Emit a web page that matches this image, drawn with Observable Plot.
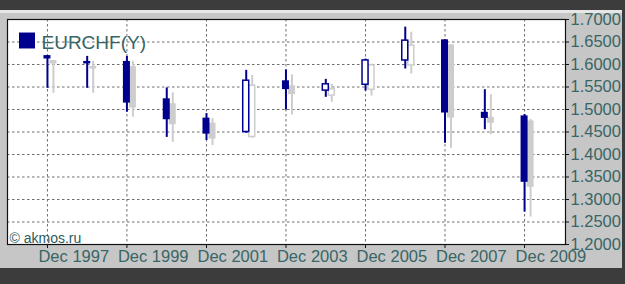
<!DOCTYPE html>
<html>
<head>
<meta charset="utf-8">
<script src="https://cdn.jsdelivr.net/npm/d3@7"></script>
<script src="https://cdn.jsdelivr.net/npm/@observablehq/plot@0.6"></script>
<style>
  html, body { margin: 0; padding: 0; background: #c6c6c6; }
  #wrap { position: relative; width: 625px; height: 284px; overflow: hidden; background: #c6c6c6; }
  .band { position: absolute; }
  #chart { position: absolute; left: 0; top: 0; }
</style>
</head>
<body>
<div id="wrap">
  <div class="band" style="left:0;top:0;width:625px;height:10px;background:#3c3c3c"></div>
  <div class="band" style="left:0;top:10px;width:625px;height:3px;background:#e6e6e6"></div>
  <div class="band" style="left:0;top:268px;width:625px;height:16px;background:#3c3c3c"></div>
  <div class="band" style="left:622px;top:0;width:3px;height:284px;background:#3c3c3c"></div>
  <div id="chart"></div>
</div>
<script>
// Yearly candles, EURCHF
const years = [1997, 1998, 1999, 2000, 2001, 2002, 2003, 2004, 2005, 2006, 2007, 2008, 2009];
const open  = [1.618, 1.605, 1.605, 1.522, 1.479, 1.450, 1.562, 1.542, 1.555, 1.609, 1.653, 1.492, 1.484];
const high  = [1.619, 1.618, 1.618, 1.548, 1.491, 1.587, 1.588, 1.567, 1.612, 1.683, 1.655, 1.544, 1.489];
const low   = [1.547, 1.547, 1.494, 1.438, 1.431, 1.447, 1.499, 1.527, 1.541, 1.590, 1.425, 1.455, 1.272];
const close = [1.614, 1.603, 1.516, 1.479, 1.447, 1.564, 1.546, 1.556, 1.609, 1.653, 1.494, 1.482, 1.340];

const xTickYears = [1997, 1999, 2001, 2003, 2005, 2007, 2009];
const yTicks = [1.20, 1.25, 1.30, 1.35, 1.40, 1.45, 1.50, 1.55, 1.60, 1.65, 1.70];
const yGrid = [1.25, 1.30, 1.35, 1.40, 1.45, 1.50, 1.55, 1.60, 1.65];
const seriesLabel = "EURCHF(Y)";
const credit = "© akmos.ru";

const dec = y => new Date(Date.UTC(y, 11, 1));
const data = years.map((y, i) => ({
  date: dec(y), open: open[i], high: high[i], low: low[i], close: close[i],
  up: close[i] > open[i]
}));
const xTicks = xTickYears.map(dec);

const blue = "#00008e";
const shadow = "#cdcdcd";
const teal = "#386565";
const font = "'Liberation Sans', Arial, sans-serif";

const downs = data.filter(d => !d.up);
const ups = data.filter(d => d.up);

function candleMarks(col, dx, dy, hollowFill) {
  return [
    Plot.ruleX(data, {x: "date", y1: "low", y2: "high", stroke: col, strokeWidth: 2, dx, dy}),
    Plot.rect(downs, {x1: "date", x2: "date", y1: "open", y2: "close",
      insetLeft: -3.5, insetRight: -3.5, insetTop: -0.8, insetBottom: -0.8,
      fill: col, dx, dy}),
    Plot.rect(ups, {x1: "date", x2: "date", y1: "open", y2: "close",
      insetLeft: -3, insetRight: -3,
      fill: hollowFill, stroke: col, strokeWidth: 1.5, dx, dy})
  ];
}

const chart = Plot.plot({
  width: 625,
  height: 284,
  marginLeft: 7,
  marginRight: 60,
  marginTop: 19,
  marginBottom: 40,
  style: {background: "transparent", fontFamily: font},
  x: {type: "utc", domain: [new Date(Date.UTC(1996, 10, 29)), new Date(Date.UTC(2010, 11, 12))]},
  y: {domain: [1.2, 1.7]},
  marks: [
    Plot.frame({fill: "white"}),
    Plot.gridY(yGrid, {stroke: "#6e6e6e", strokeOpacity: 1, strokeDasharray: "2.5,2.5"}),
    Plot.gridX(xTicks, {stroke: "#6e6e6e", strokeOpacity: 1, strokeDasharray: "2.5,2.5"}),
    ...candleMarks(shadow, 6, 5, "white"),
    ...candleMarks(blue, 0, 0, "white"),
    Plot.frame({stroke: "#111", strokeWidth: 1.2}),
    Plot.axisX(xTicks, {anchor: "bottom", tickSize: 4, tickFormat: () => "", stroke: "#111", label: null}),
    Plot.text(xTicks, {x: d => d, frameAnchor: "bottom", dy: 6, dx: -9, textAnchor: "start",
      lineAnchor: "top", text: d3.utcFormat("Dec %Y"), fontSize: 16.5, fill: teal}),
    Plot.axisY(yTicks, {anchor: "right", tickSize: 3, tickPadding: 2,
      tickFormat: d3.format(".4f"), fontSize: 16.5, fill: teal, stroke: "#111", label: null}),
    Plot.dot([seriesLabel], {frameAnchor: "top-left", dx: 19.5, dy: 21, symbol: "square", r: 9, fill: blue}),
    Plot.text([seriesLabel], {frameAnchor: "top-left", dx: 34, dy: 23.5, textAnchor: "start",
      lineAnchor: "middle", fontSize: 19, fill: teal}),
    Plot.text([credit], {frameAnchor: "bottom-left", dx: 2, dy: -2, textAnchor: "start",
      lineAnchor: "bottom", fontSize: 14, fill: "#2d5c5c"})
  ]
});
document.getElementById("chart").appendChild(chart);
</script>
</body>
</html>
